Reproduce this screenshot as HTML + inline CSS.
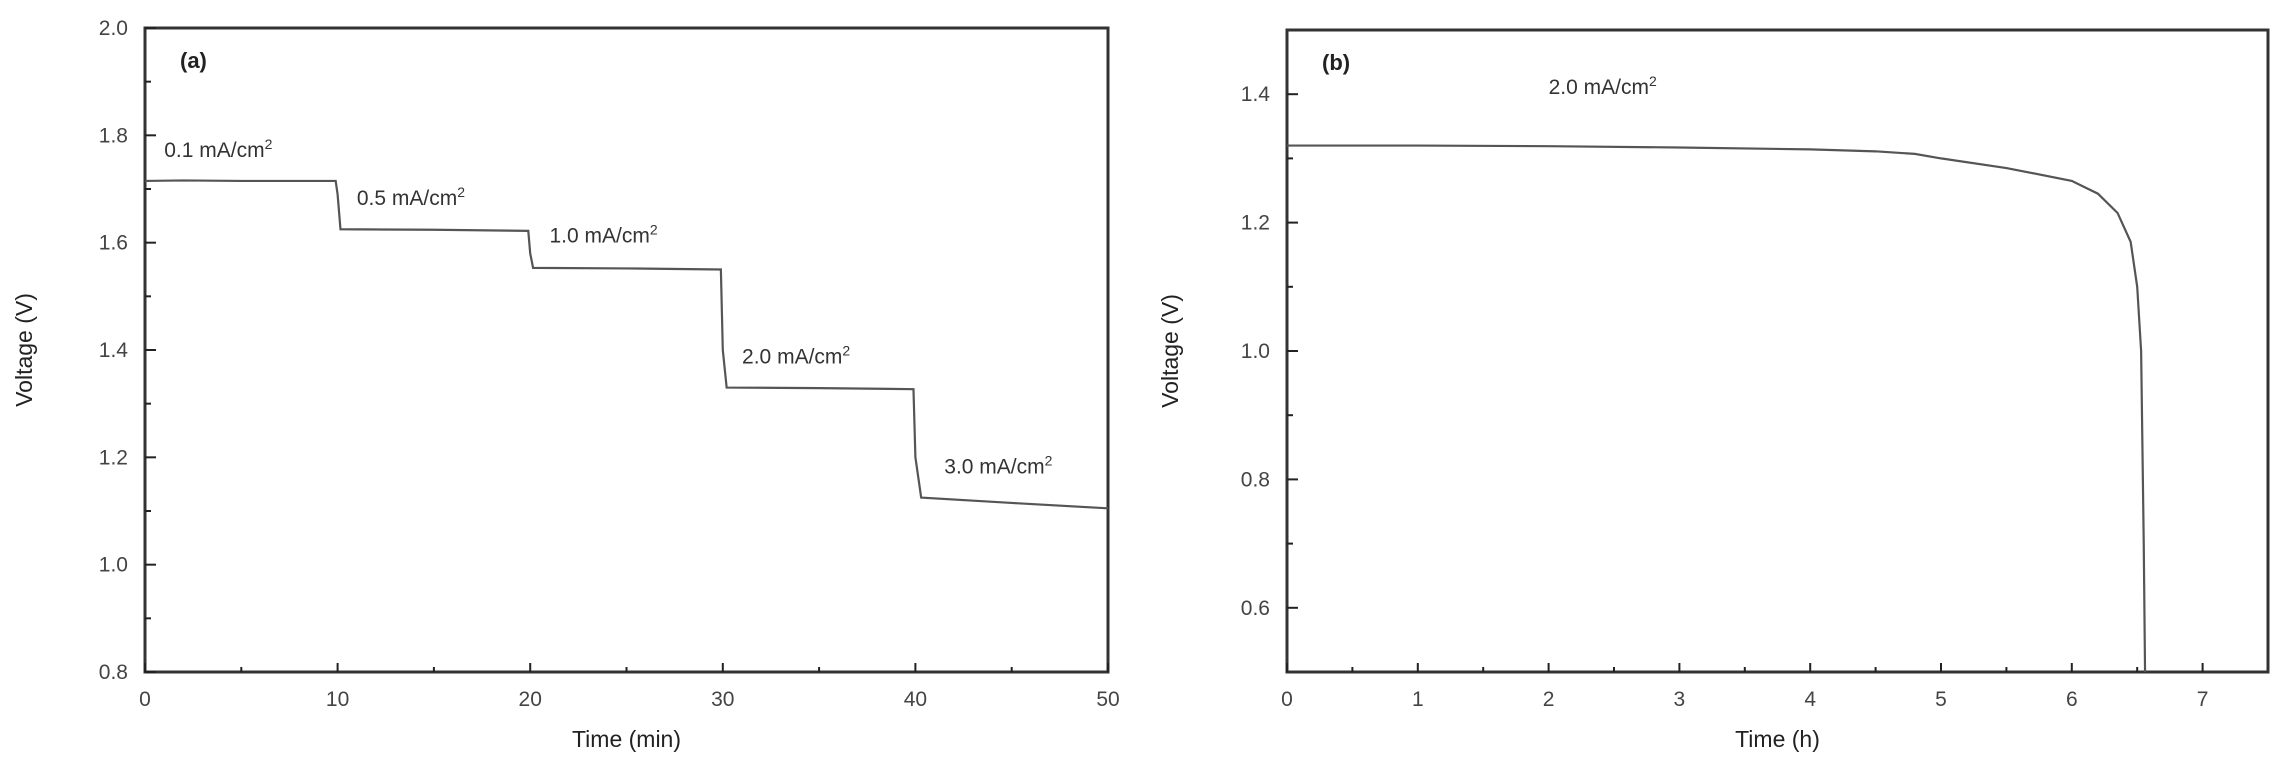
<!DOCTYPE html>
<html><head><meta charset="utf-8"><style>
body{margin:0;background:#fff;}
svg{display:block;font-family:"Liberation Sans",Arial,sans-serif;}
</style></head><body>
<svg id="chart" width="2290" height="780"></svg>
<script>
const aTimes=[0,2,5,9.9,10,10.15,15,19.9,20,20.15,25,29.9,30,30.2,35,39.9,40,40.3,45,50];
const aVolts=[1.715,1.716,1.715,1.715,1.69,1.625,1.624,1.622,1.58,1.553,1.552,1.55,1.4,1.33,1.329,1.327,1.2,1.125,1.115,1.105];
const aXTicks=[0,10,20,30,40,50];
const aYTicks=[0.8,1.0,1.2,1.4,1.6,1.8,2.0];
const aLabels=["0.1 mA/cm","0.5 mA/cm","1.0 mA/cm","2.0 mA/cm","3.0 mA/cm"];
const aLabelX=[1,11,21,31,41.5];
const aLabelY=[1.76,1.67,1.6,1.375,1.17];
const bTimes=[0,1,2,3,4,4.5,4.8,5,5.5,6,6.2,6.35,6.45,6.5,6.53,6.55,6.56];
const bVolts=[1.32,1.32,1.319,1.317,1.314,1.311,1.307,1.3,1.285,1.265,1.245,1.215,1.17,1.1,1.0,0.7,0.5];
const bXTicks=[0,1,2,3,4,5,6,7];
const bYTicks=[0.6,0.8,1.0,1.2,1.4];
const NS="http://www.w3.org/2000/svg";
const svg=document.getElementById('chart');
function mk(t,a,p){const e=document.createElementNS(NS,t);for(const k in a)e.setAttribute(k,a[k]);(p||svg).appendChild(e);return e;}
function panel(cfg){
 const g=mk('g',{});
 
 
 const sx=v=>cfg.L+(v-cfg.x0)/(cfg.x1-cfg.x0)*(cfg.R-cfg.L);
 const sy=v=>cfg.B-(v-cfg.y0)/(cfg.y1-cfg.y0)*(cfg.B-cfg.T);
 const fr=mk('rect',{x:cfg.L,y:cfg.T,width:cfg.R-cfg.L,height:cfg.B-cfg.T,fill:'none',stroke:'#333','stroke-width':3},g);
 
 
 cfg.xt.forEach((v,i)=>{
  mk('line',{x1:sx(v),x2:sx(v),y1:cfg.B,y2:cfg.B-9,stroke:'#222','stroke-width':2},g);
  if(i<cfg.xt.length-1||cfg.minorLast){const m=(v+cfg.xstep/2);if(m<cfg.x1)mk('line',{x1:sx(m),x2:sx(m),y1:cfg.B,y2:cfg.B-5,stroke:'#222','stroke-width':2},g);}
  const t=mk('text',{x:sx(v),y:cfg.B+34,'font-size':21,'text-anchor':'middle',fill:'#444'},g);t.textContent=String(v);
  
  
 });
 cfg.yt.forEach(v=>{
  mk('line',{x1:cfg.L,x2:cfg.L+11,y1:sy(v),y2:sy(v),stroke:'#222','stroke-width':2},g);
  const m=v+cfg.ystep/2;if(m<cfg.y1)mk('line',{x1:cfg.L,x2:cfg.L+6,y1:sy(m),y2:sy(m),stroke:'#222','stroke-width':2},g);
  const t=mk('text',{x:cfg.L-17,y:sy(v)+7,'font-size':21,'text-anchor':'end',fill:'#444'},g);t.textContent=v.toFixed(1);
  
  
 });
 const pl=mk('polyline',{points:cfg.xs.map((x,i)=>sx(x)+','+sy(cfg.ys[i])).join(' '),fill:'none',stroke:'#555','stroke-width':2.2},g);
 
 
 const xt=mk('text',{x:(cfg.L+cfg.R)/2,y:cfg.B+75,'font-size':23,'text-anchor':'middle',fill:'#222'},g);xt.textContent=cfg.xtitle;
 
 
 const yt=mk('text',{x:0,y:0,'font-size':23,'text-anchor':'middle',fill:'#222',transform:`translate(${cfg.ytx},${(cfg.T+cfg.B)/2}) rotate(-90)`},g);yt.textContent='Voltage (V)';
 
 
 const pt=mk('text',{x:cfg.L+35,y:cfg.T+40,'font-size':22,'font-weight':'bold',fill:'#222'},g);pt.textContent=cfg.tag;
 
 
 cfg.labels.forEach((s,i)=>{
  const t=mk('text',{x:sx(cfg.lx[i]),y:sy(cfg.ly[i]),'font-size':21,fill:'#333'},g);
  t.textContent=s;
  const sup=mk('tspan',{dy:-8,'font-size':14},t);sup.textContent='2';
  
  
 });
 return {sx,sy};
}
panel({name:'panel-a',L:145,R:1108,T:28,B:672,x0:0,x1:50,y0:0.8,y1:2.0,xt:aXTicks,yt:aYTicks,xstep:10,ystep:0.2,xs:aTimes,ys:aVolts,xtitle:'Time (min)',ytx:32,tag:'(a)',labels:aLabels,lx:aLabelX,ly:aLabelY});
panel({name:'panel-b',L:1287,R:2268,T:30,B:672,x0:0,x1:7.5,y0:0.5,y1:1.5,xt:bXTicks,yt:bYTicks,xstep:1,ystep:0.2,minorLast:true,xs:bTimes,ys:bVolts,xtitle:'Time (h)',ytx:1178,tag:'(b)',labels:["2.0 mA/cm"],lx:[2],ly:[1.4]});
</script>
</body></html>
